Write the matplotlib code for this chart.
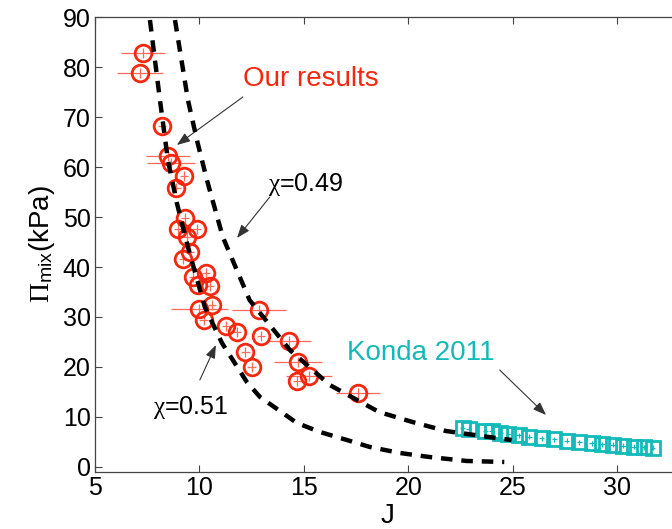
import matplotlib
matplotlib.use("Agg")
import matplotlib.pyplot as plt

plt.rcParams['font.family'] = ['Liberation Sans', 'DejaVu Sans']
# serif greek letters, sans subscripts
plt.rcParams['mathtext.fontset'] = 'custom'
plt.rcParams['mathtext.rm'] = 'Liberation Serif'
plt.rcParams['mathtext.it'] = 'Liberation Serif:italic'
plt.rcParams['mathtext.sf'] = 'Liberation Sans'

# measured osmotic pressure vs swelling ratio
our_J = [7.30, 7.15, 8.20, 8.50, 8.64, 9.26, 8.90, 9.30, 9.88, 8.97, 9.40,
         9.55, 9.20, 9.70, 10.30, 9.93, 10.50, 10.00, 10.60, 10.20, 11.27,
         11.80, 12.85, 12.20, 12.50, 12.94, 14.30, 14.70, 15.25, 14.67, 17.60]
our_P = [82.8, 78.8, 68.2, 62.2, 60.8, 58.2, 55.8, 49.8, 47.6, 47.6, 46.0,
         43.0, 41.6, 38.0, 38.8, 36.4, 36.2, 31.6, 32.4, 29.4, 28.2,
         27.0, 31.4, 23.0, 20.0, 26.2, 25.2, 21.0, 18.2, 17.2, 14.8]
our_Jerr = [1.07, 1.10, 0.20, 1.07, 1.15, 0.20, 0.20, 0.20, 0.20, 0.20, 0.20,
            0.20, 0.20, 0.20, 0.20, 0.20, 0.20, 1.35, 0.20, 0.20, 0.20,
            0.20, 1.30, 0.20, 0.20, 0.20, 1.05, 1.15, 1.10, 0.20, 1.05]
our_Perr = [1.0] * len(our_J)

# Konda 2011
konda_J = [22.6, 22.9, 23.7, 24.0, 24.4, 24.8, 25.3, 25.8, 26.4, 27.0,
           27.6, 28.2, 28.8, 29.3, 29.8, 30.3, 30.8, 31.3, 31.7]
konda_P = [7.8, 7.6, 7.2, 7.1, 6.8, 6.6, 6.3, 6.0, 5.7, 5.5,
           5.2, 4.9, 4.7, 4.5, 4.4, 4.2, 4.0, 3.9, 3.8]
konda_Jerr = [0.12] * len(konda_J)
konda_Perr = [0.5] * len(konda_J)

# Flory-Huggins curves
chi49_J = [8.83, 9.45, 9.88, 10.36, 11.12, 12.4, 14.33, 16.24, 18.6, 20.2,
           21.8, 24.2, 24.95]
chi49_P = [89.4, 73.4, 65.4, 57.4, 46.0, 33.4, 23.4, 16.4, 11.0, 9.0,
           7.2, 5.8, 5.4]
chi51_J = [7.63, 8.11, 8.49, 8.92, 9.45, 10.26, 11.08, 12.27, 12.9, 14.67,
           15.77, 17.06, 18.16, 19.6, 21.0, 22.8, 24.6]
chi51_P = [89.4, 73.4, 61.4, 52.8, 44.0, 32.0, 24.8, 17.0, 14.0, 8.8,
           7.0, 5.4, 4.0, 2.8, 2.0, 1.2, 1.0]

red = '#f5280f'
cyan = '#14b9b9'

fig = plt.figure(figsize=(6.72, 5.29), dpi=100)
ax = fig.add_axes([0.1414, 0.1078, 0.87, 0.860])

ax.errorbar(our_J, our_P, xerr=our_Jerr, yerr=our_Perr, fmt='none',
            ecolor='#ff6a5a', elinewidth=0.9, capsize=0, zorder=2)
ax.plot(our_J, our_P, 'o', ms=12, mfc='none', mec=red, mew=2.0, zorder=3)

ax.errorbar(konda_J, konda_P, xerr=konda_Jerr, yerr=konda_Perr, fmt='none',
            ecolor=cyan, elinewidth=0.9, capsize=0, zorder=2)
ax.plot(konda_J, konda_P, 's', ms=10, mfc='none', mec=cyan, mew=2.0, zorder=3)

ax.plot(chi49_J, chi49_P, color='black', lw=3.2, ls=(0, (2.6, 2.0)), zorder=4)
ax.plot(chi51_J, chi51_P, color='black', lw=3.2, ls=(0, (2.6, 2.0)), zorder=4)

arrow = dict(arrowstyle='-|>,head_length=0.8,head_width=0.3',
             color='#333333', lw=0.8, shrinkA=0, shrinkB=0)
ax.annotate('', xy=(8.92, 64.4), xytext=(12.08, 74.0), arrowprops=arrow)
ax.text(12.1, 77.6, 'Our results', color=red, fontsize=20,
        ha='left', va='center')
ax.annotate('', xy=(11.8, 45.8), xytext=(13.37, 54.0), arrowprops=arrow)
ax.text(13.3, 56.6, r'$\mathrm{\chi}$=0.49', fontsize=18, ha='left', va='center')
ax.annotate('', xy=(10.79, 24.4), xytext=(10.02, 17.4), arrowprops=arrow)
ax.text(7.8, 11.8, r'$\mathrm{\chi}$=0.51', fontsize=18, ha='left', va='center')
ax.annotate('', xy=(26.6, 10.4), xytext=(24.38, 19.4), arrowprops=arrow)
ax.text(17.06, 22.8, 'Konda 2011', color=cyan, fontsize=20,
        ha='left', va='center')

ax.set_xlim(5, 33)
ax.set_ylim(-1, 90)
ax.set_xticks([5, 10, 15, 20, 25, 30])
ax.set_yticks(range(0, 91, 10))
ax.tick_params(direction='in', length=5, width=0.8, labelsize=18,
               top=True, right=True, colors='#444444', labelcolor='black',
               pad=3)
for s in ax.spines.values():
    s.set_color('#444444')
    s.set_linewidth(0.9)

ax.set_xlabel('J', fontsize=20, labelpad=2)
ax.set_ylabel(r'$\Pi_{\mathsf{mix}}$(kPa)', fontsize=20, labelpad=4)

fig.savefig('out.png', dpi=100)
